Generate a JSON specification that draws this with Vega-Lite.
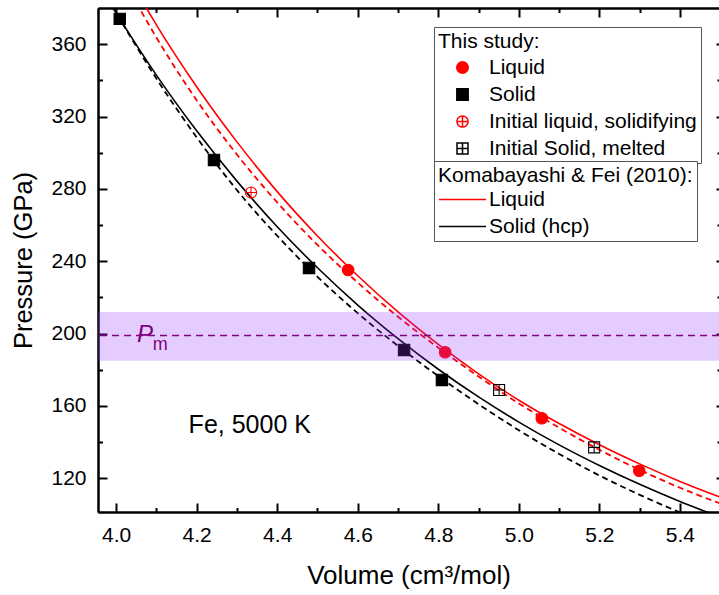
{
  "$schema": "https://vega.github.io/schema/vega-lite/v6.json",
  "width": 621,
  "height": 504,
  "autosize": {"type": "none"},
  "padding": {"left": 98, "top": 8, "right": 0, "bottom": 83},
  "background": "white",
  "config": {
    "view": {"stroke": null},
    "font": "Liberation Sans",
    "axis": {
      "grid": false, "domainColor": "black", "domainWidth": 2, "tickColor": "black", "tickWidth": 2,
      "labelColor": "black", "labelFont": "Liberation Sans", "labelFontSize": 21,
      "titleColor": "black", "titleFont": "Liberation Sans", "titleFontWeight": "normal", "zindex": 1
    }
  },
  "datasets": {
    "curves": [
      {"curve": "kfl", "V": 4.05, "P": 389.6}, {"curve": "kfl", "V": 4.1, "P": 370.7}, {"curve": "kfl", "V": 4.2, "P": 336.5},
      {"curve": "kfl", "V": 4.3, "P": 306.0}, {"curve": "kfl", "V": 4.4, "P": 278.5}, {"curve": "kfl", "V": 4.5, "P": 254.0},
      {"curve": "kfl", "V": 4.6, "P": 232.0}, {"curve": "kfl", "V": 4.7, "P": 212.0}, {"curve": "kfl", "V": 4.8, "P": 194.0},
      {"curve": "kfl", "V": 4.9, "P": 177.8}, {"curve": "kfl", "V": 5.0, "P": 163.2}, {"curve": "kfl", "V": 5.1, "P": 150.3},
      {"curve": "kfl", "V": 5.2, "P": 138.6}, {"curve": "kfl", "V": 5.3, "P": 128.0}, {"curve": "kfl", "V": 5.4, "P": 118.3},
      {"curve": "kfl", "V": 5.5, "P": 109.6},
      {"curve": "fitl", "V": 4.05, "P": 383.0}, {"curve": "fitl", "V": 4.1, "P": 363.7}, {"curve": "fitl", "V": 4.2, "P": 329.0},
      {"curve": "fitl", "V": 4.3, "P": 299.0}, {"curve": "fitl", "V": 4.4, "P": 272.5}, {"curve": "fitl", "V": 4.5, "P": 249.0},
      {"curve": "fitl", "V": 4.6, "P": 228.2}, {"curve": "fitl", "V": 4.7, "P": 209.3}, {"curve": "fitl", "V": 4.8, "P": 192.2},
      {"curve": "fitl", "V": 4.9, "P": 176.3}, {"curve": "fitl", "V": 5.0, "P": 161.4}, {"curve": "fitl", "V": 5.1, "P": 148.0},
      {"curve": "fitl", "V": 5.2, "P": 135.8}, {"curve": "fitl", "V": 5.3, "P": 124.7}, {"curve": "fitl", "V": 5.4, "P": 114.8},
      {"curve": "fitl", "V": 5.5, "P": 106.1},
      {"curve": "kfs", "V": 3.99, "P": 380.9}, {"curve": "kfs", "V": 4.0, "P": 377.3}, {"curve": "kfs", "V": 4.1, "P": 342.9},
      {"curve": "kfs", "V": 4.2, "P": 312.1}, {"curve": "kfs", "V": 4.3, "P": 284.3}, {"curve": "kfs", "V": 4.4, "P": 259.1},
      {"curve": "kfs", "V": 4.5, "P": 236.4}, {"curve": "kfs", "V": 4.6, "P": 215.8}, {"curve": "kfs", "V": 4.7, "P": 197.2},
      {"curve": "kfs", "V": 4.8, "P": 180.3}, {"curve": "kfs", "V": 4.9, "P": 165.0}, {"curve": "kfs", "V": 5.0, "P": 151.1},
      {"curve": "kfs", "V": 5.1, "P": 138.5}, {"curve": "kfs", "V": 5.2, "P": 127.1}, {"curve": "kfs", "V": 5.3, "P": 116.7},
      {"curve": "kfs", "V": 5.4, "P": 107.2}, {"curve": "kfs", "V": 5.5, "P": 98.6},
      {"curve": "fits", "V": 3.99, "P": 381.0}, {"curve": "fits", "V": 4.0, "P": 377.3}, {"curve": "fits", "V": 4.1, "P": 341.0},
      {"curve": "fits", "V": 4.2, "P": 308.5}, {"curve": "fits", "V": 4.3, "P": 279.3}, {"curve": "fits", "V": 4.4, "P": 254.1},
      {"curve": "fits", "V": 4.5, "P": 231.4}, {"curve": "fits", "V": 4.6, "P": 211.3}, {"curve": "fits", "V": 4.7, "P": 193.2},
      {"curve": "fits", "V": 4.8, "P": 176.5}, {"curve": "fits", "V": 4.9, "P": 161.0}, {"curve": "fits", "V": 5.0, "P": 146.6},
      {"curve": "fits", "V": 5.1, "P": 133.5}, {"curve": "fits", "V": 5.2, "P": 121.6}, {"curve": "fits", "V": 5.3, "P": 110.9},
      {"curve": "fits", "V": 5.4, "P": 101.2}, {"curve": "fits", "V": 5.5, "P": 92.6}
    ],
    "points": [
      {"series": "Liquid", "V": 4.576, "P": 235.2}, {"series": "Liquid", "V": 4.817, "P": 189.7},
      {"series": "Liquid", "V": 5.057, "P": 153.2}, {"series": "Liquid", "V": 5.299, "P": 124.2},
      {"series": "Solid", "V": 4.009, "P": 374.0}, {"series": "Solid", "V": 4.243, "P": 296.0},
      {"series": "Solid", "V": 4.479, "P": 236.3}, {"series": "Solid", "V": 4.715, "P": 191.0},
      {"series": "Solid", "V": 4.809, "P": 174.4},
      {"series": "Initial liquid, solidifying", "V": 4.335, "P": 278.0},
      {"series": "Initial Solid, melted", "V": 4.951, "P": 168.8}, {"series": "Initial Solid, melted", "V": 5.187, "P": 137.1}
    ],
    "pm": [{"P": 199, "lo": 185, "hi": 212}],
    "notes": [
      {"kind": "fe", "text": "Fe, 5000 K", "V": 4.18, "P": 145},
      {"kind": "P", "text": "P", "V": 4.052, "P": 195.5},
      {"kind": "m", "text": "m", "V": 4.091, "P": 191}
    ]
  },
  "resolve": {"axis": {"x": "independent", "y": "independent"}},
  "layer": [
    {
      "data": {"name": "curves"},
      "transform": [{"filter": "datum.curve === 'kfl'"}],
      "mark": {"type": "line", "clip": true, "strokeWidth": 1.6, "interpolate": "monotone"},
      "encoding": {
        "x": {"field": "V", "type": "quantitative", "scale": {"domain": [3.955, 5.497], "nice": false, "zero": false},
          "axis": {"orient": "bottom", "values": [4.0, 4.2, 4.4, 4.6, 4.8, 5.0, 5.2, 5.4], "format": ".1f", "tickSize": -9, "labelPadding": 21,
            "title": "Volume (cm³/mol)", "titleFontSize": 26, "titlePadding": 17}},
        "y": {"field": "P", "type": "quantitative", "scale": {"domain": [101.4, 380], "nice": false, "zero": false},
          "axis": {"orient": "left", "values": [120, 160, 200, 240, 280, 320, 360], "tickSize": -9, "labelPadding": 21,
            "title": "Pressure (GPa)", "titleFontSize": 25.5, "titlePadding": 14}},
        "color": {"field": "curve", "type": "nominal", "scale": {"domain": ["kfl", "kfs"], "range": ["#ff0000", "#000000"]},
          "legend": {
            "orient": "none", "legendX": 336, "legendY": 153, "direction": "vertical", "zindex": 2,
            "title": "Komabayashi & Fei (2010):", "titleLimit": 400, "titleFontSize": 21, "titleFontWeight": "normal", "titleFont": "Liberation Sans", "titleColor": "black", "titlePadding": 3,
            "labelFontSize": 21, "labelFont": "Liberation Sans", "labelColor": "black", "labelLimit": 400,
            "labelOffset": 16, "symbolOffset": 14, "rowPadding": 5, "padding": 4,
            "strokeColor": "#555555", "fillColor": "white", "symbolType": "M-3.84,0H3.84", "symbolSize": 150, "symbolStrokeWidth": 1.5,
            "labelExpr": "datum.value === 'kfl' ? 'Liquid' : 'Solid (hcp)'"
          }}
      }
    },
    {
      "data": {"name": "curves"},
      "transform": [{"filter": "datum.curve === 'kfs'"}],
      "mark": {"type": "line", "clip": true, "strokeWidth": 1.6, "interpolate": "monotone"},
      "encoding": {
        "x": {"field": "V", "type": "quantitative", "scale": {"domain": [3.955, 5.497], "nice": false, "zero": false},
          "axis": {"orient": "bottom", "values": [4.1, 4.3, 4.5, 4.7, 4.9, 5.1, 5.3], "labels": false, "tickSize": -4.5, "title": null}},
        "y": {"field": "P", "type": "quantitative", "scale": {"domain": [101.4, 380], "nice": false, "zero": false},
          "axis": {"orient": "left", "values": [140, 180, 220, 260, 300, 340], "labels": false, "tickSize": -4.5, "title": null}},
        "color": {"field": "curve", "type": "nominal", "scale": {"domain": ["kfl", "kfs"], "range": ["#ff0000", "#000000"]},
          "legend": {
            "orient": "none", "legendX": 336, "legendY": 153, "direction": "vertical", "zindex": 2,
            "title": "Komabayashi & Fei (2010):", "titleLimit": 400, "titleFontSize": 21, "titleFontWeight": "normal", "titleFont": "Liberation Sans", "titleColor": "black", "titlePadding": 3,
            "labelFontSize": 21, "labelFont": "Liberation Sans", "labelColor": "black", "labelLimit": 400,
            "labelOffset": 16, "symbolOffset": 14, "rowPadding": 5, "padding": 4,
            "strokeColor": "#555555", "fillColor": "white", "symbolType": "M-3.84,0H3.84", "symbolSize": 150, "symbolStrokeWidth": 1.5,
            "labelExpr": "datum.value === 'kfl' ? 'Liquid' : 'Solid (hcp)'"
          }}
      }
    },
    {
      "data": {"name": "curves"},
      "transform": [{"filter": "datum.curve === 'fitl'"}],
      "mark": {"type": "line", "clip": true, "color": "#ff0000", "strokeWidth": 1.8, "strokeDash": [6, 4], "interpolate": "monotone"},
      "encoding": {
        "x": {"field": "V", "type": "quantitative", "scale": {"domain": [3.955, 5.497], "nice": false, "zero": false},
          "axis": {"orient": "top", "values": [4.0, 4.2, 4.4, 4.6, 4.8, 5.0, 5.2, 5.4], "labels": false, "tickSize": -9, "title": null}},
        "y": {"field": "P", "type": "quantitative", "scale": {"domain": [101.4, 380], "nice": false, "zero": false},
          "axis": {"orient": "right", "values": [120, 160, 200, 240, 280, 320, 360], "labels": false, "domain": false, "tickSize": -3, "title": null}}
      }
    },
    {
      "data": {"name": "curves"},
      "transform": [{"filter": "datum.curve === 'fits'"}],
      "mark": {"type": "line", "clip": true, "color": "#000000", "strokeWidth": 1.8, "strokeDash": [6, 4], "interpolate": "monotone"},
      "encoding": {
        "x": {"field": "V", "type": "quantitative", "scale": {"domain": [3.955, 5.497], "nice": false, "zero": false},
          "axis": {"orient": "top", "values": [4.1, 4.3, 4.5, 4.7, 4.9, 5.1, 5.3], "labels": false, "tickSize": -4.5, "title": null}},
        "y": {"field": "P", "type": "quantitative", "scale": {"domain": [101.4, 380], "nice": false, "zero": false},
          "axis": {"orient": "right", "values": [140, 180, 220, 260, 300, 340], "labels": false, "domain": false, "tickSize": -2, "title": null}}
      }
    },
    {
      "data": {"name": "points"},
      "mark": {"type": "point", "opacity": 1, "strokeWidth": 1.1},
      "encoding": {
        "x": {"field": "V", "type": "quantitative", "scale": {"domain": [3.955, 5.497], "nice": false, "zero": false}, "axis": null},
        "y": {"field": "P", "type": "quantitative", "scale": {"domain": [101.4, 380], "nice": false, "zero": false}, "axis": null},
        "shape": {"field": "series", "type": "nominal",
          "scale": {"domain": ["Liquid", "Solid", "Initial liquid, solidifying", "Initial Solid, melted"],
            "range": ["circle", "square", "M-1,0A1,1 0 1,1 1,0A1,1 0 1,1 -1,0ZM-1,0H1M0,-1V1", "M-1,-1H1V1H-1ZM-1,0H1M0,-1V1"]},
          "legend": {
            "orient": "none", "legendX": 336, "legendY": 19, "direction": "vertical", "zindex": 1,
            "title": "This study:", "titleFontSize": 21, "titleFontWeight": "normal", "titleFont": "Liberation Sans", "titleColor": "black", "titlePadding": 5,
            "labelFontSize": 21, "labelFont": "Liberation Sans", "labelColor": "black", "labelLimit": 400,
            "labelOffset": 16, "symbolOffset": 14, "rowPadding": 5, "padding": 4,
            "strokeColor": "#555555", "fillColor": "white", "symbolStrokeWidth": 1.5
          }},
        "fill": {"field": "series", "type": "nominal",
          "scale": {"domain": ["Liquid", "Solid", "Initial liquid, solidifying", "Initial Solid, melted"],
            "range": ["#ff0000", "#000000", "transparent", "transparent"]},
          "legend": {
            "orient": "none", "legendX": 336, "legendY": 19, "direction": "vertical", "zindex": 1,
            "title": "This study:", "titleFontSize": 21, "titleFontWeight": "normal", "titleFont": "Liberation Sans", "titleColor": "black", "titlePadding": 5,
            "labelFontSize": 21, "labelFont": "Liberation Sans", "labelColor": "black", "labelLimit": 400,
            "labelOffset": 16, "symbolOffset": 14, "rowPadding": 5, "padding": 4,
            "strokeColor": "#555555", "fillColor": "white", "symbolStrokeWidth": 1.5
          }},
        "stroke": {"field": "series", "type": "nominal",
          "scale": {"domain": ["Liquid", "Solid", "Initial liquid, solidifying", "Initial Solid, melted"],
            "range": ["#ff0000", "#000000", "#ff0000", "#000000"]},
          "legend": {
            "orient": "none", "legendX": 336, "legendY": 19, "direction": "vertical", "zindex": 1,
            "title": "This study:", "titleFontSize": 21, "titleFontWeight": "normal", "titleFont": "Liberation Sans", "titleColor": "black", "titlePadding": 5,
            "labelFontSize": 21, "labelFont": "Liberation Sans", "labelColor": "black", "labelLimit": 400,
            "labelOffset": 16, "symbolOffset": 14, "rowPadding": 5, "padding": 4,
            "strokeColor": "#555555", "fillColor": "white", "symbolStrokeWidth": 1.5
          }},
        "size": {"field": "series", "type": "nominal",
          "scale": {"domain": ["Liquid", "Solid", "Initial liquid, solidifying", "Initial Solid, melted"],
            "range": [133, 121, 144, 121]},
          "legend": {
            "orient": "none", "legendX": 336, "legendY": 19, "direction": "vertical", "zindex": 1,
            "title": "This study:", "titleFontSize": 21, "titleFontWeight": "normal", "titleFont": "Liberation Sans", "titleColor": "black", "titlePadding": 5,
            "labelFontSize": 21, "labelFont": "Liberation Sans", "labelColor": "black", "labelLimit": 400,
            "labelOffset": 16, "symbolOffset": 14, "rowPadding": 5, "padding": 4,
            "strokeColor": "#555555", "fillColor": "white", "symbolStrokeWidth": 1.5
          }}
      }
    },
    {
      "data": {"name": "pm"},
      "mark": {"type": "rect", "color": "#9933ff", "opacity": 0.25},
      "encoding": {
        "y": {"field": "lo", "type": "quantitative", "scale": {"domain": [101.4, 380], "nice": false, "zero": false}, "axis": null},
        "y2": {"field": "hi"}
      }
    },
    {
      "data": {"name": "pm"},
      "mark": {"type": "rule", "color": "#800080", "strokeWidth": 1.5, "strokeDash": [7, 5]},
      "encoding": {
        "y": {"field": "P", "type": "quantitative", "scale": {"domain": [101.4, 380], "nice": false, "zero": false}, "axis": null}
      }
    },
    {
      "data": {"name": "notes"},
      "transform": [{"filter": "datum.kind === 'fe'"}],
      "mark": {"type": "text", "align": "left", "baseline": "alphabetic", "fontSize": 25, "font": "Liberation Sans", "color": "black"},
      "encoding": {
        "x": {"field": "V", "type": "quantitative", "scale": {"domain": [3.955, 5.497], "nice": false, "zero": false}, "axis": null},
        "y": {"field": "P", "type": "quantitative", "scale": {"domain": [101.4, 380], "nice": false, "zero": false}, "axis": null},
        "text": {"field": "text"}
      }
    },
    {
      "data": {"name": "notes"},
      "transform": [{"filter": "datum.kind === 'P'"}],
      "mark": {"type": "text", "align": "left", "baseline": "alphabetic", "fontSize": 24, "fontStyle": "italic", "font": "Liberation Sans", "color": "#800080"},
      "encoding": {
        "x": {"field": "V", "type": "quantitative", "scale": {"domain": [3.955, 5.497], "nice": false, "zero": false}, "axis": null},
        "y": {"field": "P", "type": "quantitative", "scale": {"domain": [101.4, 380], "nice": false, "zero": false}, "axis": null},
        "text": {"field": "text"}
      }
    },
    {
      "data": {"name": "notes"},
      "transform": [{"filter": "datum.kind === 'm'"}],
      "mark": {"type": "text", "align": "left", "baseline": "alphabetic", "fontSize": 18, "font": "Liberation Sans", "color": "#800080"},
      "encoding": {
        "x": {"field": "V", "type": "quantitative", "scale": {"domain": [3.955, 5.497], "nice": false, "zero": false}, "axis": null},
        "y": {"field": "P", "type": "quantitative", "scale": {"domain": [101.4, 380], "nice": false, "zero": false}, "axis": null},
        "text": {"field": "text"}
      }
    }
  ]
}
